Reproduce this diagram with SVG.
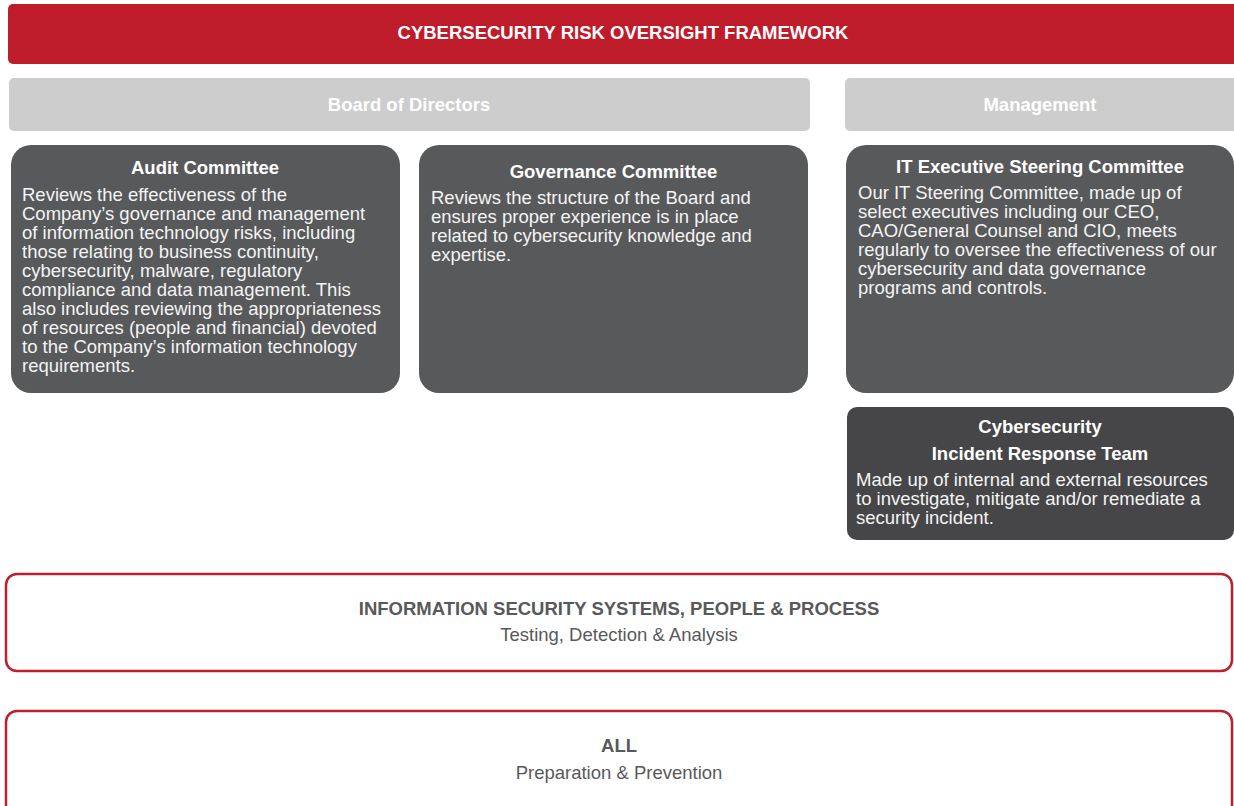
<svg xmlns="http://www.w3.org/2000/svg" width="1234" height="806" viewBox="0 0 1234 806">
<style>
text{font-family:"Liberation Sans",Arial,Helvetica,sans-serif;}
.hd{font-size:18.5px;font-weight:bold;fill:#ffffff;text-anchor:middle;}
.bd{font-size:18.5px;fill:#f4f4f4;}
.dark{fill:#58595b;}
.darker{fill:#464648;}
.bar{fill:#cdcdcd;}
.frame{fill:#ffffff;stroke:#be1e2d;stroke-width:2.5;}
.gt{font-size:18.5px;fill:#58595b;text-anchor:middle;}
</style>
<rect width="1234" height="806" fill="#ffffff"/>
<g id="banner">
<rect x="8" y="4" width="1240" height="60" rx="5" fill="#be1c2b"/>
<text class="hd" x="623" y="38.5">CYBERSECURITY RISK OVERSIGHT FRAMEWORK</text>
</g>
<g id="board">
<rect class="bar" x="9" y="78" width="801" height="53" rx="5"/>
<text class="hd" x="409" y="110.5">Board of Directors</text>
</g>
<g id="management">
<rect class="bar" x="845" y="78" width="400" height="53" rx="5"/>
<text class="hd" x="1040" y="110.5">Management</text>
</g>
<g id="audit">
<rect class="dark" x="11" y="145" width="389" height="248" rx="20"/>
<text class="hd" x="205" y="174">Audit Committee</text>
<text class="bd" x="22" y="201">Reviews the effectiveness of the</text>
<text class="bd" x="22" y="220">Company’s governance and management</text>
<text class="bd" x="22" y="239">of information technology risks, including</text>
<text class="bd" x="22" y="258">those relating to business continuity,</text>
<text class="bd" x="22" y="277">cybersecurity, malware, regulatory</text>
<text class="bd" x="22" y="296">compliance and data management. This</text>
<text class="bd" x="22" y="315">also includes reviewing the appropriateness</text>
<text class="bd" x="22" y="334">of resources (people and financial) devoted</text>
<text class="bd" x="22" y="353">to the Company’s information technology</text>
<text class="bd" x="22" y="372">requirements.</text>
</g>
<g id="governance">
<rect class="dark" x="419" y="145" width="389" height="248" rx="20"/>
<text class="hd" x="613.5" y="178">Governance Committee</text>
<text class="bd" x="431" y="204">Reviews the structure of the Board and</text>
<text class="bd" x="431" y="223">ensures proper experience is in place</text>
<text class="bd" x="431" y="242">related to cybersecurity knowledge and</text>
<text class="bd" x="431" y="261">expertise.</text>
</g>
<g id="it-steering">
<rect class="dark" x="846" y="145" width="388" height="248" rx="20"/>
<text class="hd" x="1040" y="173">IT Executive Steering Committee</text>
<text class="bd" x="858" y="199">Our IT Steering Committee, made up of</text>
<text class="bd" x="858" y="218">select executives including our CEO,</text>
<text class="bd" x="858" y="237">CAO/General Counsel and CIO, meets</text>
<text class="bd" x="858" y="256">regularly to oversee the effectiveness of our</text>
<text class="bd" x="858" y="275">cybersecurity and data governance</text>
<text class="bd" x="858" y="294">programs and controls.</text>
</g>
<g id="incident-response">
<rect class="darker" x="847" y="407" width="387" height="133" rx="10"/>
<text class="hd" x="1040" y="433">Cybersecurity</text>
<text class="hd" x="1040" y="460">Incident Response Team</text>
<text class="bd" x="856" y="486">Made up of internal and external resources</text>
<text class="bd" x="856" y="505">to investigate, mitigate and/or remediate a</text>
<text class="bd" x="856" y="524">security incident.</text>
</g>
<g id="infosec">
<rect class="frame" x="6" y="574" width="1226" height="97" rx="11"/>
<text class="gt" x="619" y="614.5" font-weight="bold">INFORMATION SECURITY SYSTEMS, PEOPLE &amp; PROCESS</text>
<text class="gt" x="619" y="641">Testing, Detection &amp; Analysis</text>
</g>
<g id="all">
<rect class="frame" x="6" y="711" width="1226" height="110" rx="11"/>
<text class="gt" x="619" y="751.5" font-weight="bold">ALL</text>
<text class="gt" x="619" y="779">Preparation &amp; Prevention</text>
</g>
<g id="connectors"></g>
</svg>
